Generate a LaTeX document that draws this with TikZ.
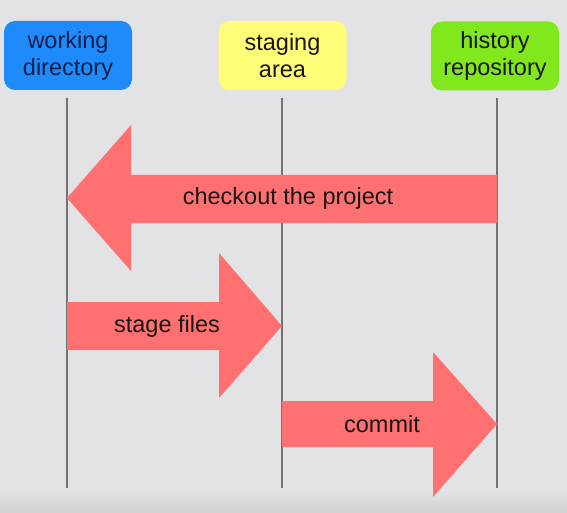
\documentclass[tikz,border=0pt]{standalone}
\usepackage{fontspec}
\setmainfont{Liberation Sans}
\usetikzlibrary{positioning,calc}
\definecolor{Backdrop}{HTML}{E3E3E5}
\definecolor{WorkBlue}{HTML}{1F8BFA}
\definecolor{StageYellow}{HTML}{FFFC78}
\definecolor{HistGreen}{HTML}{80E81C}
\definecolor{Ink}{HTML}{1A1414}
\definecolor{BlueInk}{HTML}{0C1E4A}
\definecolor{Lane}{HTML}{737373}
\definecolor{Salmon}{HTML}{FF7070}

\begin{document}
\begin{tikzpicture}[x=1pt, y=-1pt, every node/.style={font=\fontsize{23.5}{27}\selectfont, text=Ink}]
  \tikzstyle{area}=[rounded corners=11pt, minimum width=128pt, minimum height=69pt, align=center, inner sep=0pt]
  \tikzstyle{lane}=[draw=Lane, line width=1.3pt]
  \tikzstyle{bigarrow}=[fill=Salmon]

  % backdrop
  \fill[Backdrop] (0,0) rectangle (567,513);
  \shade[top color=Backdrop, bottom color=Backdrop!92!black] (0,490) rectangle (567,513);
  \useasboundingbox (0,0) rectangle (567,513);

  % the three areas
  \node[area, fill=WorkBlue, text=BlueInk] (work) at (68,55.5) {working\\directory};
  \node[area, fill=StageYellow] (stage) at (282.5,55.5) {staging\\area};
  \node[area, fill=HistGreen] (hist) at (495,56) {history\\repository};

  % lifelines
  \coordinate (workTop) at (67,98);
  \coordinate (stageTop) at (282,98);
  \coordinate (histTop) at (497,98);
  \coordinate (workEnd) at (67,488);
  \coordinate (stageEnd) at (282,488);
  \coordinate (histEnd) at (497,488);
  \draw[lane] (workTop) -- (workEnd);
  \draw[lane] (stageTop) -- (stageEnd);
  \draw[lane] (histTop) -- (histEnd);

  % checkout: history -> working
  \fill[bigarrow] (67,198) -- (131,125) -- (131,175) -- (497,175) -- (497,223) -- (131,223) -- (131,271) -- cycle;
  \node (checkout) at (288,198) {checkout the project};

  % stage: working -> staging
  \fill[bigarrow] (67,302) -- (219,302) -- (219,253) -- (282,326) -- (219,398) -- (219,350) -- (67,350) -- cycle;
  \node (stagefiles) at (167,326) {stage files};

  % commit: staging -> history
  \fill[bigarrow] (282,401) -- (433,401) -- (433,352) -- (497,424) -- (433,497) -- (433,447) -- (282,447) -- cycle;
  \node (commit) at (382,424) {commit};
\end{tikzpicture}
\end{document}
